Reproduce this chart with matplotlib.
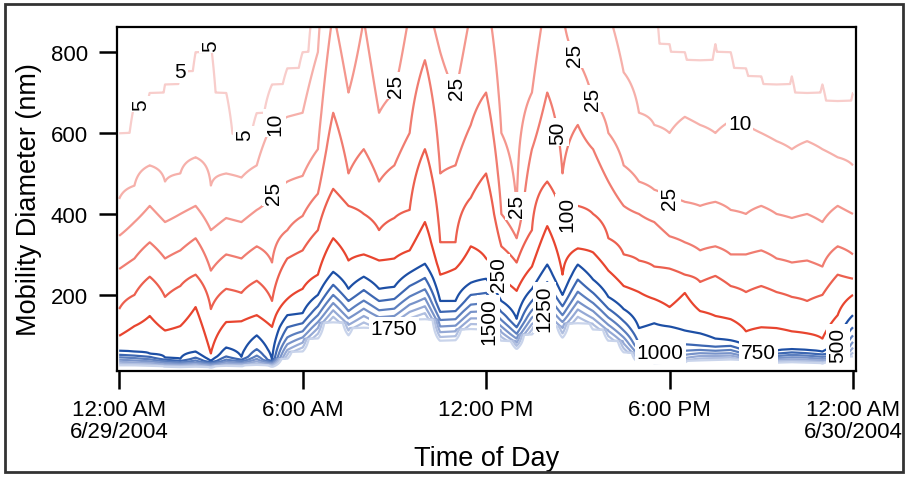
import numpy as np
import matplotlib
matplotlib.use('Agg')
import matplotlib.pyplot as plt
from matplotlib.patches import Rectangle

plt.rcParams['font.family'] = ['Liberation Sans', 'DejaVu Sans']

# sample times (hours after midnight, 6/29/2004), every 30 min
hours = np.arange(49) * 0.5

# diameter (nm) where the number concentration drops to each contour level
d_2000 = [26, 25, 24, 22, 21, 22, 20, 24, 23, 27, 22, 42, 60, 92, 132, 100, 118,
          104, 106, 128, 140, 86, 88, 115, 114, 86, 66, 102, 122, 94, 130, 114,
          86, 58, 33, 31, 32, 33, 38, 39, 40, 34, 32, 32, 33, 32, 30, 33, 48]
d_1750 = [30, 29, 28, 25, 24, 26, 22, 27, 26, 31, 25, 52, 70, 104, 146, 112, 132,
          116, 118, 142, 155, 96, 98, 128, 127, 96, 74, 114, 138, 105, 146, 127,
          98, 68, 38, 36, 37, 38, 43, 44, 45, 38, 36, 36, 37, 36, 34, 37, 58]
d_1500 = [35, 33, 32, 28, 27, 29, 25, 31, 29, 36, 28, 64, 82, 118, 162, 126, 148,
          130, 132, 158, 172, 108, 110, 142, 142, 108, 82, 128, 156, 118, 164, 142,
          111, 80, 44, 42, 43, 44, 49, 49, 50, 43, 40, 40, 41, 40, 38, 41, 70]
d_1250 = [40, 38, 36, 32, 30, 33, 28, 35, 32, 42, 31, 78, 95, 133, 180, 142, 166,
          145, 148, 176, 192, 122, 124, 158, 160, 122, 92, 144, 176, 133, 184, 160,
          126, 95, 52, 49, 50, 52, 56, 55, 56, 48, 45, 44, 46, 45, 42, 46, 84]
d_1000 = [46, 44, 41, 36, 33, 38, 31, 40, 36, 50, 34, 95, 110, 150, 200, 160, 186,
          162, 166, 196, 214, 138, 140, 176, 180, 138, 104, 162, 200, 150, 208, 180,
          144, 112, 62, 58, 60, 62, 64, 62, 64, 54, 50, 49, 52, 50, 47, 52, 100]
d_750 = [52, 50, 47, 40, 37, 45, 34, 48, 40, 66, 37, 120, 130, 172, 225, 185, 212,
         185, 190, 222, 242, 158, 160, 200, 205, 158, 120, 185, 232, 172, 238, 205,
         166, 135, 78, 72, 75, 78, 75, 72, 74, 62, 56, 55, 58, 56, 53, 60, 120]
d_500 = [62, 60, 55, 45, 42, 60, 37, 70, 47, 100, 40, 150, 155, 200, 257, 215, 245,
         215, 220, 255, 277, 185, 185, 230, 240, 185, 141, 215, 275, 200, 275, 238,
         195, 165, 118, 130, 122, 112, 105, 92, 88, 75, 68, 62, 66, 64, 60, 75, 150]
d_250 = [99, 123, 148, 112, 123, 170, 55, 133, 135, 150, 121, 190, 215, 250, 340,
         285, 300, 285, 290, 310, 380, 250, 265, 320, 290, 240, 210, 270, 370, 250,
         315, 305, 260, 222, 207, 190, 170, 205, 160, 148, 140, 110, 120, 118, 110,
         105, 92, 150, 200]
d_100 = [165, 200, 245, 195, 222, 250, 165, 215, 205, 235, 185, 290, 310, 360, 462,
         420, 400, 360, 390, 410, 560, 330, 330, 440, 500, 320, 280, 360, 480, 390,
         420, 400, 340, 300, 285, 270, 265, 250, 232, 247, 222, 207, 222, 207, 195,
         185, 200, 250, 240]
d_50 = [264, 290, 330, 290, 310, 340, 260, 300, 290, 320, 280, 360, 395, 450, 650,
        500, 560, 480, 520, 600, 780, 500, 520, 620, 700, 400, 340, 560, 700, 500,
        620, 560, 480, 420, 400, 380, 345, 330, 310, 320, 300, 300, 310, 290, 280,
        285, 270, 320, 300]
d_25 = [346, 380, 420, 380, 400, 420, 360, 390, 380, 410, 450, 480, 494, 560, 900,
        700, 880, 650, 700, 900, 950, 800, 700, 900, 950, 600, 420, 700, 950, 900,
        780, 680, 600, 520, 480, 460, 440, 430, 420, 430, 410, 400, 420, 400, 390,
        400, 380, 420, 400]
d_10 = [437, 470, 520, 480, 500, 540, 470, 500, 490, 520, 622, 640, 650, 800, 960,
        960, 960, 960, 960, 960, 960, 960, 960, 960, 960, 960, 960, 960, 960, 960,
        960, 960, 900, 750, 650, 620, 600, 640, 620, 600, 630, 620, 600, 580, 560,
        580, 560, 540, 520]
d_5 = [600, 672, 700, 720, 753, 800, 820, 700, 598, 650, 720, 760, 800, 980, 980,
       980, 980, 980, 980, 980, 980, 980, 980, 980, 980, 980, 980, 980, 980, 980,
       980, 980, 980, 980, 980, 950, 820, 800, 780, 820, 800, 760, 740, 720, 740,
       700, 720, 680, 700]

levels = [5, 10, 25, 50, 100, 250, 500, 750, 1000, 1250, 1500, 1750, 2000]
level_colors = ['#f8cdcb', '#f6b0aa', '#f4978e', '#f07c70', '#ec604f', '#e8452f',
                '#1d4fa5', '#3d67b2', '#5b7ebe', '#7893c9', '#95a9d5', '#b0bfe0',
                '#c9d4eb']

x_ticks = [0, 6, 12, 18, 24]
x_ticklabels = ['12:00 AM\n6/29/2004', '6:00 AM', '12:00 PM', '6:00 PM',
                '12:00 AM\n6/30/2004']
y_ticks = [200, 400, 600, 800]

# contour label spots: (hours, nm, text rotation)
label_spots = {
    5: [(0.7, 672, 90), (2.0, 753, 0), (2.8, 820, 90), (4.1, 598, 90)],
    10: [(5.1, 622, 90), (20.3, 627, 0)],
    25: [(5.1, 450, 90), (9.35, 710, 90), (11.15, 710, 90), (13.05, 412, 90),
         (14.9, 795, 90), (15.4, 684, 90), (18.0, 437, 90)],
    50: [(14.1, 598, 90)],
    100: [(14.65, 400, 90)],
    250: [(12.2, 240, 90)],
    500: [(23.5, 79, 90)],
    750: [(20.9, 52, 0)],
    1000: [(17.7, 54, 0)],
    1250: [(13.8, 180, 90)],
    1500: [(11.9, 116, 90)],
    1750: [(9.0, 101, 0)],
}


def build_field():
    crossings = np.array([d_5, d_10, d_25, d_50, d_100, d_250, d_500, d_750,
                          d_1000, d_1250, d_1500, d_1750, d_2000], dtype=float)
    diam = np.linspace(5, 1000, 900)
    log_lv = np.log(levels)[::-1]
    conc = np.empty((diam.size, hours.size))
    for j in range(hours.size):
        conc[:, j] = np.exp(np.interp(diam, crossings[::-1, j], log_lv,
                                      left=np.log(3000), right=np.log(2)))
    return diam, conc


def plot_size_distribution() -> None:
    diam, conc = build_field()

    fig = plt.figure(figsize=(9.05, 4.81), dpi=100)
    ax = fig.add_axes([0.1293, 0.2266, 0.8166, 0.7152])

    # one contour set per level so each label lands on its own level
    for lv, col in zip(levels, level_colors):
        cs = ax.contour(hours, diam, conc, levels=[lv], colors=[col],
                        linewidths=1.6)
        if lv not in label_spots:
            continue
        spots = label_spots[lv]
        texts = ax.clabel(cs, manual=[(x, y) for x, y, _ in spots], fmt='%d',
                          fontsize=15, colors='black', inline=False)
        for txt, (_, _, rot) in zip(texts, spots):
            txt.set_rotation(rot)
            txt.set_bbox(dict(facecolor='white', edgecolor='none', pad=1.5))
            txt.set_zorder(5)

    ax.set_xlim(-0.07, 24.1)
    ax.set_ylim(12, 862)
    ax.set_xticks(x_ticks)
    ax.set_xticklabels(x_ticklabels, fontsize=16, linespacing=1.1)
    ax.set_yticks(y_ticks)
    ax.set_yticklabels([str(v) for v in y_ticks], fontsize=16)
    ax.tick_params(axis='both', direction='out', length=13, width=1.8)
    ax.tick_params(axis='x', pad=7)
    ax.tick_params(axis='y', pad=8)
    for sp in ax.spines.values():
        sp.set_linewidth(1.6)
        sp.set_zorder(6)

    ax.set_xlabel('Time of Day', fontsize=19.5, labelpad=2)
    ax.set_ylabel('Mobility Diameter (nm)', fontsize=19.5, labelpad=6)

    fig.add_artist(Rectangle((0.0055, 0.0166), 0.9923, 0.973,
                             transform=fig.transFigure, fill=False,
                             lw=2, ec='#333333'))

    fig.savefig('out.png', dpi=100)


if __name__ == '__main__':
    plot_size_distribution()
